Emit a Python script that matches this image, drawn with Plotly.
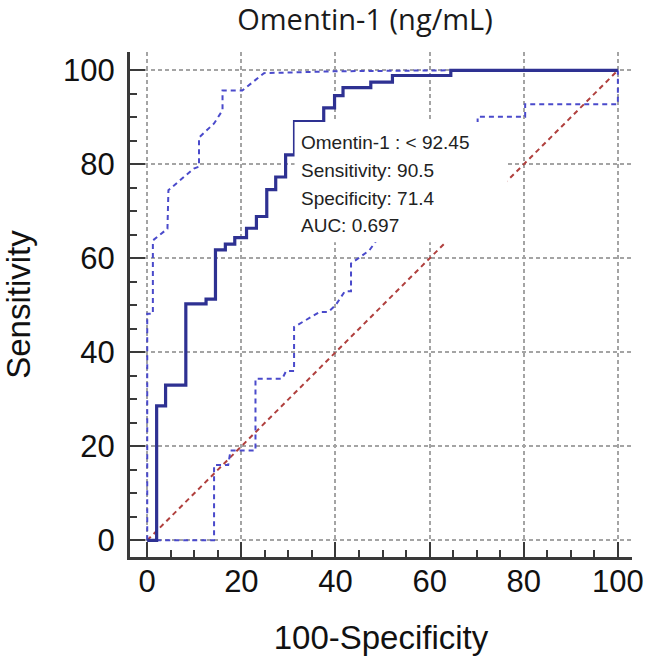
import plotly.graph_objects as go

# ROC curve (step corners)
roc_fpr = [0, 2.0, 3.9, 8.2, 12.5, 14.5, 16.6, 18.6, 21.1, 23.2, 25.4, 27.3, 29.4, 31.3, 37.5, 39.8, 41.6, 47.5, 52.1, 64.5, 100]
roc_tpr = [0, 28.6, 33.0, 50.3, 51.3, 61.8, 63.0, 64.4, 66.4, 68.9, 74.6, 77.3, 82.0, 89.1, 92.0, 94.6, 96.3, 97.5, 98.9, 100, 100]

# Upper 95% confidence bound
upper_fpr = [0, 0, 1.2, 1.2, 4.3, 4.5, 9.9, 11.0, 11.0, 14.2, 16.0, 16.0, 20.2, 24.8, 40.0, 64.0, 100]
upper_tpr = [0, 48.2, 48.2, 63.8, 66.3, 74.5, 79.1, 79.5, 85.7, 88.7, 91.5, 95.7, 95.7, 99.4, 99.8, 100, 100]

# Lower 95% confidence bound
lower_fpr = [0, 14.2, 14.2, 17.2, 17.7, 23.0, 23.0, 28.7, 29.5, 31.2, 31.2, 34.0, 36.7, 38.5, 40.0, 42.0, 43.3, 43.3, 47.2, 48.5, 70.2, 70.2, 80.3, 80.3, 100, 100]
lower_tpr = [0, 0, 16.0, 16.0, 19.1, 19.1, 34.4, 34.4, 36.0, 36.0, 45.4, 47.0, 48.6, 48.6, 50.0, 53.0, 53.0, 58.9, 61.7, 63.5, 85.0, 90.1, 90.1, 92.8, 92.8, 100]

# Reference (chance) line
diag = [0, 100]

title_text = "Omentin-1 (ng/mL)"
info_lines = ["Omentin-1 : < 92.45", "Sensitivity: 90.5", "Specificity: 71.4", "AUC: 0.697"]
tick_vals = [0, 20, 40, 60, 80, 100]

MAIN = "#2E3192"
CI = "#4A4ACB"
RED = "#B0403E"
AX = "#3A3A3A"
GRID = "#A4A4A4"

W, H = 646, 657

fig = go.Figure()
fig.add_trace(go.Scatter(x=diag, y=diag, mode="lines",
                         line=dict(color=RED, width=2, dash="5px,4px"), hoverinfo="skip"))
fig.add_trace(go.Scatter(x=upper_fpr, y=upper_tpr, mode="lines",
                         line=dict(color=CI, width=2, dash="5px,4px")))
fig.add_trace(go.Scatter(x=lower_fpr, y=lower_tpr, mode="lines",
                         line=dict(color=CI, width=2, dash="5px,4px")))
fig.add_trace(go.Scatter(x=roc_fpr, y=roc_tpr, mode="lines",
                         line=dict(color=MAIN, width=3.2, shape="hv")))

# white info box covering the curves
fig.add_shape(type="rect", xref="x", yref="y", x0=31.3, x1=76.6, y0=63.4, y1=89.0,
              fillcolor="white", line=dict(width=0), layer="above")

info_y = [84.7, 78.7, 72.8, 67.0]
for txt, yy in zip(info_lines, info_y):
    fig.add_annotation(x=32.3, y=yy, xref="x", yref="y", text=txt, showarrow=False,
                       xanchor="left", yanchor="middle",
                       font=dict(family="Liberation Sans, Arial", size=19, color="#222222"))

axis_common = dict(
    showline=True, linewidth=3, linecolor=AX, mirror=False,
    ticks="inside", ticklen=15, tickwidth=2, tickcolor=AX,
    tickmode="array", tickvals=tick_vals,
    tickfont=dict(family="Liberation Sans, Arial", size=31, color="#111111"),
    showgrid=True, gridcolor=GRID, gridwidth=1.5, griddash="4px,3px",
    zeroline=False, automargin=False,
    minor=dict(ticks="inside", ticklen=7, tickwidth=2, tickcolor=AX, dtick=5, tick0=0, showgrid=False),
)

fig.update_layout(
    width=W, height=H,
    margin=dict(l=129.5, r=13.5, t=51.7, b=100.3),
    paper_bgcolor="white", plot_bgcolor="white",
    showlegend=False,
    title=dict(text=title_text, x=365/W, xanchor="center", xref="container",
               y=1 - 20/H, yanchor="middle", yref="container",
               font=dict(family="Open Sans", size=29, color="#1a1a1a")),
    xaxis=dict(range=[-3.66, 103.0],
               title=dict(text="100-Specificity", standoff=28,
                          font=dict(family="Liberation Sans, Arial", size=33, color="#111111")),
               ticklabelstandoff=-5,
               **axis_common),
    yaxis=dict(range=[-3.55, 103.9],
               title=dict(text="Sensitivity", standoff=41,
                          font=dict(family="Liberation Sans, Arial", size=33, color="#111111")),
               ticklabelstandoff=6,
               **axis_common),
)

fig.write_html("out.html", config={"displayModeBar": False},
               post_script="document.body.style.margin='0';")
